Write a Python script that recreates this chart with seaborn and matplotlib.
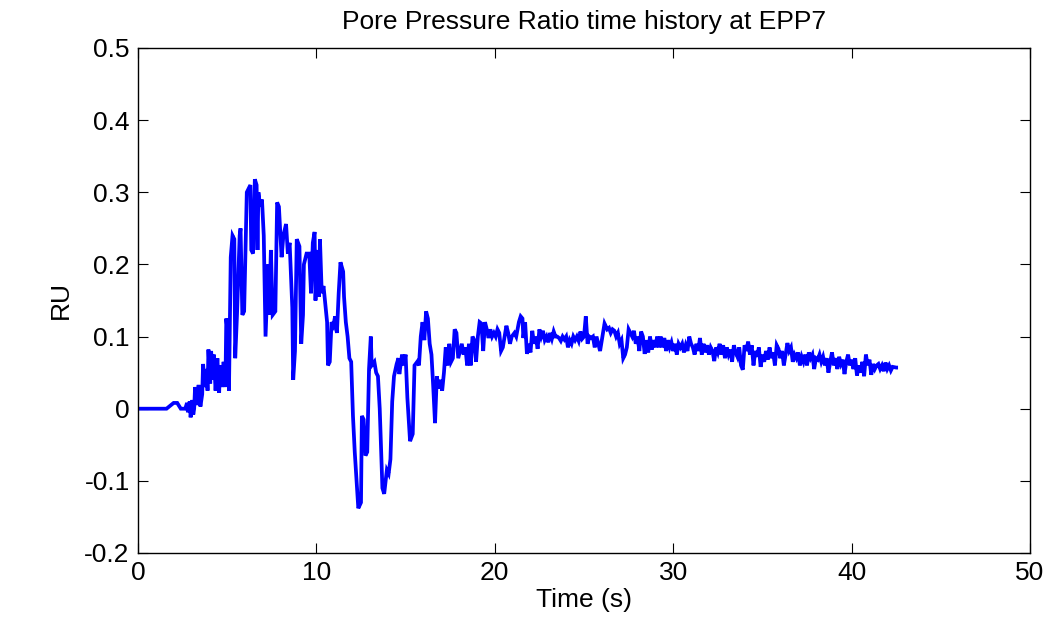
import matplotlib
matplotlib.use("Agg")
import matplotlib.pyplot as plt
import seaborn as sns
import pandas as pd

title = "Pore Pressure Ratio time history at EPP7"
x_label = "Time (s)"
y_label = "RU"
x_ticks = [0, 10, 20, 30, 40, 50]
x_tick_labels = ["0", "10", "20", "30", "40", "50"]
y_ticks = [-0.2, -0.1, 0.0, 0.1, 0.2, 0.3, 0.4, 0.5]
y_tick_labels = ["-0.2", "-0.1", "0", "0.1", "0.2", "0.3", "0.4", "0.5"]

time_s = [
    0, 1.6, 2.0, 2.2, 2.4, 2.65,
    2.75, 2.8, 2.9, 2.95, 3.05, 3.1, 3.15,
    3.2, 3.3, 3.4, 3.5, 3.6,
    3.65, 3.75, 3.85, 3.9, 3.95, 4.05, 4.1,
    4.2, 4.25, 4.35, 4.45, 4.55, 4.6, 4.7, 4.8, 4.9,
    4.95, 5.05, 5.1,
    5.2, 5.3, 5.4, 5.45,
    5.55, 5.7, 5.75, 5.85, 5.95,
    6.1, 6.3, 6.35, 6.45, 6.55, 6.65, 6.7, 6.75, 6.85,
    6.95, 7.05, 7.15, 7.3, 7.35, 7.45,
    7.55, 7.7, 7.8, 7.9, 8.05,
    8.15, 8.3, 8.4, 8.5,
    8.65, 8.7, 8.8, 8.9,
    9.05, 9.15, 9.25, 9.3,
    9.45, 9.6, 9.7, 9.8, 9.9, 9.95,
    10.05, 10.15, 10.2, 10.3, 10.4,
    10.5, 10.6, 10.65, 10.75, 10.85,
    10.95, 11.05, 11.15, 11.25,
    11.35, 11.5, 11.55,
    11.65, 11.75, 11.85, 11.95,
    12.05, 12.15, 12.25,
    12.35, 12.5,
    12.55, 12.65, 12.75, 12.85,
    12.95, 13.05, 13.1,
    13.25, 13.35, 13.45,
    13.55, 13.7, 13.8,
    13.95, 14.05,
    14.15, 14.25, 14.35,
    14.5, 14.6, 14.65,
    14.8, 14.9, 15.0,
    15.1, 15.25, 15.4,
    15.5, 15.65, 15.75,
    15.85, 15.95, 16.05,
    16.15, 16.25,
    16.35, 16.45, 16.55,
    16.65, 16.75,
    16.85, 16.95, 17.05, 17.15,
    17.25, 17.35, 17.45, 17.55, 17.65,
    17.75, 17.85, 17.95, 18.05,
    18.15, 18.25, 18.35,
    18.45, 18.55, 18.65, 18.75,
    18.85, 18.95, 19.05,
    19.15, 19.25, 19.35, 19.45,
    19.55, 19.65, 19.75,
    19.85, 19.95, 20.05, 20.15,
    20.25, 20.35, 20.45, 20.55,
    20.65, 20.75, 20.85,
    20.95, 21.1, 21.2,
    21.35, 21.45, 21.55, 21.6,
    21.7, 21.8, 21.9, 22.0,
    22.1, 22.2, 22.3, 22.4,
    22.5, 22.6, 22.7, 22.8, 22.9, 23.0,
    23.1, 23.2, 23.3, 23.4, 23.5,
    23.6, 23.7, 23.8, 23.9, 24.0,
    24.1, 24.2, 24.3, 24.4, 24.5,
    24.6, 24.7, 24.8, 24.9, 25.0,
    25.1, 25.2,
    25.3, 25.4, 25.5, 25.6, 25.7, 25.8, 25.9, 26.0,
    26.15, 26.3, 26.4, 26.5, 26.6, 26.7,
    26.8, 26.9, 27.0, 27.1,
    27.2, 27.3, 27.4,
    27.5, 27.6, 27.7, 27.8, 27.9, 28.0, 28.1,
    28.2, 28.3, 28.4, 28.5,
    28.6, 28.7, 28.8, 28.9, 29.0, 29.1, 29.2,
    29.3, 29.4, 29.5, 29.6, 29.7, 29.8, 29.9, 30.0,
    30.1, 30.2, 30.3, 30.4, 30.5, 30.6, 30.7,
    30.8, 30.9, 31.0, 31.1, 31.2, 31.3, 31.4,
    31.5, 31.6, 31.7, 31.8, 31.9, 32.0, 32.1, 32.2, 32.3, 32.4,
    32.5, 32.6, 32.7, 32.8, 32.9, 33.0, 33.1, 33.2, 33.3, 33.4,
    33.5, 33.6, 33.7, 33.8, 33.9, 34.0, 34.1, 34.2, 34.3, 34.4,
    34.5, 34.6, 34.7, 34.8, 34.9, 35.0, 35.1, 35.2, 35.3, 35.4,
    35.5, 35.6, 35.7, 35.8, 35.9, 36.0, 36.1, 36.2, 36.3, 36.4,
    36.5, 36.6, 36.7, 36.8, 36.9, 37.0, 37.1, 37.2, 37.3, 37.4,
    37.5, 37.6, 37.7, 37.8, 37.9, 38.0, 38.1, 38.2, 38.3, 38.4,
    38.5, 38.6, 38.7, 38.8, 38.9, 39.0, 39.1, 39.2, 39.3, 39.4,
    39.5, 39.6, 39.7, 39.8, 39.9, 40.0, 40.1, 40.2, 40.3, 40.4,
    40.5, 40.6, 40.7, 40.8, 40.9, 41.0, 41.1, 41.2, 41.3, 41.4,
    41.5, 41.6, 41.7, 41.8, 41.9, 42.0, 42.1, 42.2, 42.3, 42.5, 42.6,
]

ru = [
    0.0, 0.0, 0.008, 0.008, 0.0, 0.0,
    0.008, -0.005, 0.01, -0.012, 0.012, -0.008, 0.0,
    0.03, 0.005, 0.033, 0.003, 0.02,
    0.062, 0.03, 0.055, 0.025, 0.082, 0.035, 0.08,
    0.04, 0.075, 0.025, 0.07, 0.022, 0.06, 0.03, 0.065, 0.03,
    0.125, 0.10, 0.025,
    0.21, 0.24, 0.235, 0.07,
    0.13, 0.24, 0.25, 0.13, 0.135,
    0.30, 0.31, 0.22, 0.215, 0.318, 0.31, 0.22, 0.30, 0.28,
    0.29, 0.24, 0.10, 0.20, 0.13, 0.22,
    0.13, 0.135, 0.286, 0.28, 0.21,
    0.24, 0.256, 0.215, 0.23,
    0.14, 0.04, 0.08, 0.235,
    0.225, 0.09, 0.13, 0.20,
    0.215, 0.215, 0.16, 0.23, 0.245, 0.15,
    0.22, 0.155, 0.235, 0.16, 0.17,
    0.145, 0.12, 0.06, 0.065, 0.12,
    0.115, 0.128, 0.105, 0.16,
    0.203, 0.19, 0.155,
    0.12, 0.10, 0.07, 0.065,
    -0.01, -0.06, -0.10,
    -0.138, -0.13,
    -0.01, -0.015, -0.065, -0.06,
    0.055, 0.10, 0.06,
    0.065, 0.05, 0.045,
    0.0, -0.11, -0.118,
    -0.085, -0.09,
    -0.07, 0.01, 0.045,
    0.062, 0.07, 0.048,
    0.075, 0.06, 0.075,
    0.015, -0.045, -0.035,
    0.06, 0.065, 0.06,
    0.10, 0.12, 0.095,
    0.135, 0.125,
    0.09, 0.075, 0.03,
    -0.02, 0.045,
    0.028, 0.04, 0.025, 0.05,
    0.085, 0.06, 0.09, 0.065, 0.07,
    0.11, 0.105, 0.07, 0.08,
    0.09, 0.075, 0.085,
    0.06, 0.09, 0.06, 0.10,
    0.095, 0.065, 0.10,
    0.12, 0.118, 0.08, 0.12,
    0.11, 0.098, 0.11,
    0.10, 0.105, 0.10, 0.11,
    0.105, 0.08, 0.085, 0.10,
    0.115, 0.105, 0.09,
    0.10, 0.105, 0.10,
    0.12, 0.128, 0.125, 0.098,
    0.12, 0.076, 0.09, 0.078,
    0.108, 0.09, 0.10, 0.083,
    0.11, 0.10, 0.108, 0.095, 0.10, 0.092,
    0.105, 0.097, 0.107, 0.10, 0.10,
    0.098, 0.094, 0.10, 0.096, 0.10,
    0.085, 0.095, 0.09, 0.10, 0.095,
    0.10, 0.094, 0.107, 0.097, 0.10,
    0.128, 0.09,
    0.10, 0.098, 0.10, 0.085, 0.10, 0.09, 0.08, 0.095,
    0.118, 0.11, 0.112, 0.105, 0.11, 0.108,
    0.10, 0.105, 0.09, 0.095,
    0.07, 0.075, 0.085,
    0.11, 0.105, 0.10, 0.108, 0.09, 0.10, 0.08,
    0.107, 0.10, 0.076, 0.095,
    0.078, 0.10, 0.082, 0.095, 0.085, 0.10, 0.085,
    0.10, 0.085, 0.098, 0.08, 0.095, 0.085, 0.092, 0.08,
    0.09, 0.075, 0.09, 0.085, 0.09, 0.078, 0.088,
    0.08, 0.10, 0.09, 0.085, 0.075, 0.09, 0.08,
    0.098, 0.075, 0.09, 0.078, 0.088, 0.075, 0.085, 0.08, 0.066, 0.085,
    0.078, 0.09, 0.075, 0.088, 0.07, 0.085, 0.075, 0.082, 0.065, 0.088,
    0.078, 0.072, 0.085, 0.06, 0.054, 0.088, 0.08, 0.093, 0.075, 0.088,
    0.06, 0.08, 0.072, 0.085, 0.058, 0.075, 0.065, 0.08, 0.068, 0.085,
    0.07, 0.078, 0.06, 0.088, 0.083, 0.07, 0.08, 0.06, 0.075, 0.091,
    0.08, 0.085, 0.065, 0.075, 0.07, 0.078, 0.06, 0.072, 0.065, 0.075,
    0.06, 0.078, 0.07, 0.075, 0.055, 0.07, 0.068, 0.075, 0.065, 0.072,
    0.06, 0.07, 0.05, 0.065, 0.078, 0.06, 0.07, 0.055, 0.072, 0.062,
    0.068, 0.048, 0.065, 0.075, 0.06, 0.068, 0.055, 0.07, 0.046, 0.06,
    0.05, 0.065, 0.045, 0.075, 0.06, 0.068, 0.047, 0.062, 0.055, 0.06,
    0.062, 0.055, 0.06, 0.052, 0.064, 0.055, 0.06, 0.053, 0.058, 0.057, 0.057,
]

df = pd.DataFrame({"time": time_s, "ru": ru})

sns.set_theme(style="white")
plt.rcParams["font.family"] = ["Liberation Sans", "DejaVu Sans"]

fig = plt.figure(figsize=(10.5, 6.24), dpi=100)
ax = fig.add_axes([0.1314, 0.1138, 0.8496, 0.8093])

sns.lineplot(data=df, x="time", y="ru", sort=False, estimator=None,
             color="#0000ff", linewidth=2.7, ax=ax)
for ln in ax.lines:
    ln.set_solid_joinstyle("miter")
    ln.set_solid_capstyle("butt")

ax.set_xlim(0, 50)
ax.set_ylim(-0.2, 0.5)
ax.set_xticks(x_ticks)
ax.set_xticklabels(x_tick_labels)
ax.set_yticks(y_ticks)
ax.set_yticklabels(y_tick_labels)

for side in ["top", "right", "bottom", "left"]:
    ax.spines[side].set_visible(True)
    ax.spines[side].set_color("black")
    ax.spines[side].set_linewidth(1.0)

ax.tick_params(axis="both", direction="in", length=7, width=0.8, color="black",
               top=True, right=True, bottom=True, left=True,
               labelsize=19, labelcolor="black", pad=6)

ax.set_title(title, fontsize=19, color="black", pad=14)
ax.set_xlabel(x_label, fontsize=19, color="black", labelpad=2)
ax.set_ylabel(y_label, fontsize=19, color="black", labelpad=8)
ax.grid(False)

fig.savefig("out.png", dpi=100, facecolor="white")
